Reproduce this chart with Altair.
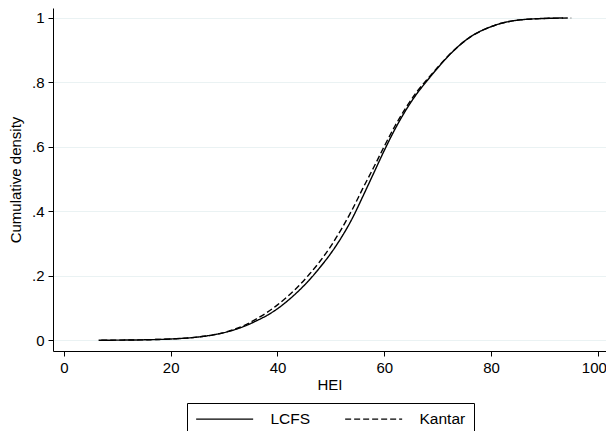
import altair as alt
import pandas as pd

# --- data ---
lcfs_x = [6.5, 10, 15, 20, 25, 28, 31, 34, 36, 38, 40, 42, 44, 46, 48, 50, 52, 54, 56,
          58, 60, 62, 64, 66, 68, 70, 72, 74, 76, 78, 80, 82, 84, 86, 89, 93.5]
lcfs_y = [0.0, 0.0005, 0.0015, 0.004, 0.010, 0.017, 0.028, 0.045, 0.060, 0.077, 0.098, 0.124,
          0.154, 0.188, 0.227, 0.27, 0.32, 0.378, 0.447, 0.518, 0.589, 0.655, 0.713, 0.763,
          0.805, 0.845, 0.882, 0.914, 0.940, 0.959, 0.973, 0.984, 0.991, 0.995, 0.998, 1.0]

kantar_x = [7, 10, 15, 20, 25, 28, 31, 34, 36, 38, 40, 42, 44, 46, 48, 50, 52, 54, 56,
            58, 60, 62, 64, 66, 68, 70, 72, 74, 76, 78, 80, 82, 84, 86, 89, 95]
kantar_y = [0.0, 0.0005, 0.0015, 0.004, 0.010, 0.017, 0.029, 0.048, 0.066, 0.086, 0.110, 0.1375,
            0.169, 0.2055, 0.246, 0.2925, 0.346, 0.4056, 0.472, 0.536, 0.602, 0.665, 0.7205,
            0.769, 0.809, 0.847, 0.883, 0.914, 0.940, 0.959, 0.973, 0.984, 0.991, 0.995, 0.998, 1.0]

series = ["LCFS", "Kantar"]
x_ticks = [0, 20, 40, 60, 80, 100]
y_ticks = [0, 0.2, 0.4, 0.6, 0.8, 1.0]

df = pd.concat([
    pd.DataFrame({"HEI": lcfs_x, "cdf": lcfs_y, "series": "LCFS", "order": range(len(lcfs_x))}),
    pd.DataFrame({"HEI": kantar_x, "cdf": kantar_y, "series": "Kantar", "order": range(len(kantar_x))}),
])

FONT = "Liberation Sans"

chart = alt.Chart(df).mark_line(
    color="black", strokeWidth=1.4, interpolate="monotone", clip=True
).encode(
    x=alt.X("HEI:Q",
            scale=alt.Scale(domain=[-2.04, 101.52], nice=False, zero=False),
            axis=alt.Axis(values=x_ticks, title="HEI", grid=False, labelFontSize=15,
                          titleFontSize=15, labelPadding=4, titlePadding=2,
                          tickSize=5, titleFontWeight="normal",
                          labelOffset={"condition": {"test": "datum.value == 100", "value": -4},
                                       "value": 0})),
    y=alt.Y("cdf:Q",
            scale=alt.Scale(domain=[-0.0332, 1.031], nice=False, zero=False),
            axis=alt.Axis(values=y_ticks, title="Cumulative density", grid=True,
                          labelExpr="datum.value == 0 ? '0' : datum.value == 1 ? '1' : replace(format(datum.value, '.1f'), '0.', '.')",
                          labelFontSize=15, titleFontSize=15, labelPadding=4, titlePadding=8,
                          tickSize=5, titleFontWeight="normal")),
    strokeDash=alt.StrokeDash("series:N",
                              scale=alt.Scale(domain=series, range=[[1, 0], [6, 3]]),
                              legend=alt.Legend(title=None, orient="none", legendX=134, legendY=395,
                                                direction="horizontal", strokeColor="black",
                                                fillColor="white", padding=8,
                                                symbolType="M-1.1,0L8.4,0", symbolSize=144,
                                                symbolStrokeWidth=1.4, symbolStrokeColor="black",
                                                symbolFillColor="transparent",
                                                labelOffset=60, columnPadding=31,
                                                labelFontSize=15.5, labelFont=FONT,
                                                labelColor="black")),
    order="order:Q",
).properties(
    width=553, height=343,
    autosize=alt.AutoSizeParams(type="none"),
    padding={"left": 45, "top": 0, "right": 0, "bottom": 80},
).configure_view(
    stroke=None
).configure_axis(
    labelFont=FONT, titleFont=FONT, labelColor="black", titleColor="black",
    domainColor="black", tickColor="black", domainWidth=1, tickWidth=1,
    gridColor="#EAF2F3", gridWidth=1
).configure_axisY(
    labelAngle=0
)

chart.save("out.html", embed_options={"renderer": "svg", "actions": False})
